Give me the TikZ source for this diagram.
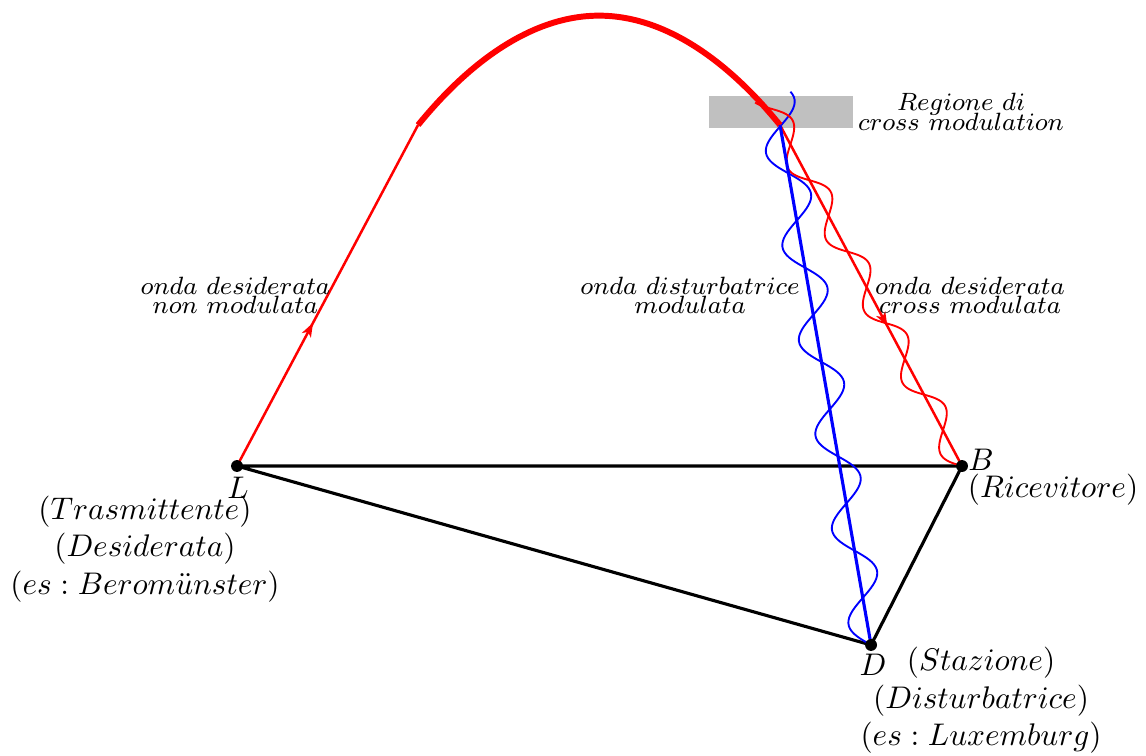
\documentclass[tikz,border=0pt]{standalone}
\usepackage{amsmath}
\usepackage{xcolor}
\usepackage{tikz}
\usetikzlibrary{arrows.meta,decorations.markings}
\definecolor{rayred}{RGB}{255,0,0}
\definecolor{rayblue}{RGB}{0,0,255}
\definecolor{regiongray}{RGB}{192,192,192}

\tikzset{
  side/.style={black, line width=1pt},
  ray/.style={rayred, line width=0.8pt},
  wave/.style={line width=0.6pt, smooth, samples=200},
  midarrow/.style={postaction={decorate}, decoration={markings,
      mark=at position #1 with {\arrow{Stealth[length=4.5pt,width=3.2pt,inset=1.2pt]}}}},
  note/.style={font=\footnotesize, align=center, inner sep=0pt},
  info/.style={align=center, inner sep=0pt},
}

\begin{document}
\begin{tikzpicture}[line join=round]
  \useasboundingbox (-2.663,-3.258) rectangle (10.213,5.236);

  \coordinate (L)  at (0,0);
  \coordinate (B)  at (8.146,0);
  \coordinate (D)  at (7.124,-2.011);
  \coordinate (P1) at (2.034,3.831);
  \coordinate (P2) at (6.101,3.831);

  % regione di cross modulation
  \fill[regiongray] (5.303,3.798) rectangle (6.921,4.157);

  \draw[side] (L) -- (B) -- (D) -- cycle;

  % onde
  \begin{scope}[shift={(D)}, rotate=99.93]
    \draw[wave, rayblue, domain=0:6.28] plot (\x, {0.21*sin(\x/0.538*180)});
  \end{scope}
  \begin{scope}[shift={(B)}, rotate=118.1]
    \draw[wave, rayred, domain=0:4.70] plot (\x, {0.15*sin(\x/0.455*180)});
  \end{scope}

  \draw[ray, midarrow=0.42] (L) -- (P1);
  \draw[rayred, line width=1.9pt] (P1) parabola bend (4.0675,5.06) (P2);
  \draw[ray, midarrow=0.59] (P2) -- (B);
  \draw[rayblue, line width=1pt] (P2) -- (D);

  \fill (L) circle (1.9pt);
  \fill (B) circle (1.9pt);
  \fill (D) circle (1.9pt);

  \node[info] (lblL) at (0.01,-0.25) {$L$};
  \node[info] (lblB) at (8.36,0.067) {$B$};
  \node[info] (lblD) at (7.146,-2.236) {$D$};
  \node[info] (infoL) at (-1.034,-0.93) {$(Trasmittente)$\\$(Desiderata)$\\$(es:Berom\ddot{u}nster)$};
  \node[info] (infoB) at (9.169,-0.27) {$(Ricevitore)$};
  \node[info] (infoD) at (8.36,-2.635) {$(Stazione)$\\$(Disturbatrice)$\\$(es:Luxemburg)$};

  \node[note] (txtdesid) at (-0.017,1.916) {$onda\ desiderata$\\[-3.3pt]$non\ modulata$};
  \node[note] (txtdist) at (5.09,1.916) {$onda\ disturbatrice$\\[-3.3pt]$modulata$};
  \node[note] (txtcross) at (8.236,1.916) {$onda\ desiderata$\\[-3.3pt]$cross\ modulata$};
  \node[note] (txtregion) at (8.135,3.98) {$Regione\ di$\\[-3.3pt]$cross\ modulation$};
\end{tikzpicture}
\end{document}
